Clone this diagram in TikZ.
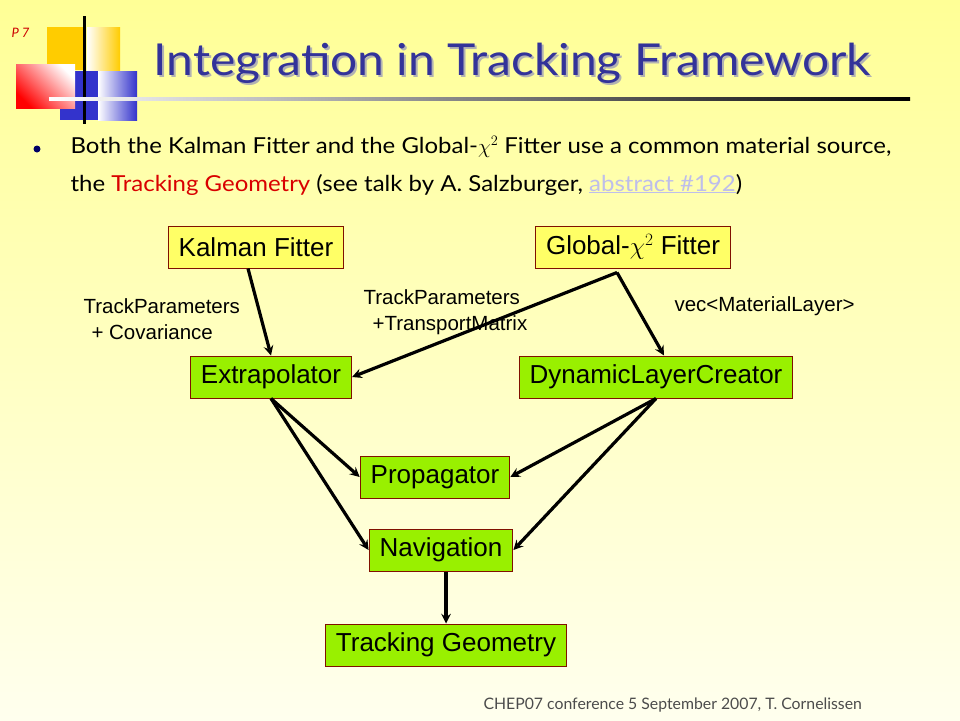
\documentclass[tikz,border=0pt]{standalone}
\usepackage{fontspec}
\setmainfont{Lato}
\newfontfamily\boxfont{Liberation Sans}
\newfontfamily\titlefont[FakeStretch=1.09]{Lato}
\newfontfamily\bodyfont[FakeStretch=1.09]{Lato}
\usepackage{tikz}
\usepackage{xcolor}
\usetikzlibrary{arrows}
\usetikzlibrary{shapes}

\definecolor{titleblue}{RGB}{51,51,153}
\definecolor{fittercol}{RGB}{255,255,102}
\definecolor{toolcol}{RGB}{153,240,0}
\definecolor{boxedge}{RGB}{128,16,0}
\definecolor{logogold}{RGB}{255,204,0}
\definecolor{logoblue}{RGB}{51,51,204}
\definecolor{linkcol}{RGB}{190,190,235}

\tikzset{
	fitterbox/.style={draw=boxedge, fill=fittercol, line width=1pt, minimum height=42pt, inner xsep=10.5pt, font=\boxfont\fontsize{26}{30}\selectfont},
	toolbox/.style={fitterbox, fill=toolcol},
	flow/.style={->, >=stealth, line width=3.2pt},
	passlabel/.style={align=left, font=\boxfont\fontsize{20.5}{26}\selectfont}
}

\begin{document}
\begin{tikzpicture}[x=1pt, y=-1pt]
		%
		%background
		\shade[top color={rgb,255:red,255;green,255;blue,150}, bottom color={rgb,255:red,255;green,255;blue,238}] (0,0) rectangle (960,720);
		%
		%logo
		\fill[logogold] (47,27) rectangle (84,70);
		\shade[left color=white, right color=logogold] (87,27) rectangle (120,70);
		\fill[logoblue] (60,71) rectangle (98,120);
		\shade[left color=white, right color=logoblue] (98,71) rectangle (137,120);
		\shade[top color=white, bottom color=red, shading angle=-45] (16,64) rectangle (75,108);
		\draw[line width=3pt] (84,16) -- (84,124);
		\shade[left color=white, right color=black] (49,97.5) rectangle (910,100.5);
		\node[anchor=base west, text=red!80!black, font=\itshape\fontsize{13}{15}\selectfont] (pagenum) at (8,37) {P 7};
		%
		%title
		\node[anchor=base west, text=black!30, font=\titlefont\fontsize{44}{50}\selectfont] at (152,77) {Integration in Tracking Framework};
		\node[anchor=base west, text=titleblue, font=\titlefont\fontsize{44}{50}\selectfont] (title) at (150,75) {Integration in Tracking Framework};
		%
		%bullet
		\fill[fill={rgb,255:red,0;green,0;blue,102}] (37,149) circle (3.5);
		\node[anchor=base west, font=\bodyfont\fontsize{22}{26}\selectfont] (line1) at (67,153) {Both the Kalman Fitter and the Global-$\chi^2$ Fitter use a common material source,};
		\node[anchor=base west, font=\bodyfont\fontsize{22}{26}\selectfont] (line2) at (67,191) {the \textcolor{red!85!black}{Tracking Geometry} (see talk by A. Salzburger, \textcolor{linkcol}{\underline{abstract \#192}})};
		%
		%fitters
		\node[fitterbox] (kalman) at (256,247) {Kalman Fitter};
		\node[fitterbox] (global) at (633,247) {Global-$\chi^{2}$ Fitter};
		%
		%tools
		\node[toolbox] (extrap) at (271,377) {Extrapolator};
		\node[toolbox] (dlc) at (656,377) {DynamicLayerCreator};
		\node[toolbox] (prop) at (435,477) {Propagator};
		\node[toolbox] (navig) at (441,550) {Navigation};
		\node[toolbox] (track) at (446,645) {Tracking Geometry};
		%
		%labels
		\node[passlabel, anchor=west] (covlabel) at (80,319) {TrackParameters\\\hspace{8pt}+ Covariance};
		\node[passlabel, anchor=west] (tmlabel) at (360,312) {TrackParameters\\\hspace{9pt}+TransportMatrix};
		\node[passlabel, anchor=west] (veclabel) at (671,306) {vec<MaterialLayer>};
		%
		%connectors
		\coordinate (gapex) at ([xshift=-16pt, yshift=-4pt]global.south);
		\draw[flow] ([xshift=-8pt]kalman.south) -- (extrap.north);
		\draw[flow] (gapex) -- (extrap.east);
		\draw[flow] (gapex) -- ([xshift=8pt]dlc.north);
		\draw[flow] (extrap.south) -- (prop.west);
		\draw[flow] (extrap.south) -- (navig.west);
		\draw[flow] (dlc.south) -- (prop.east);
		\draw[flow] (dlc.south) -- (navig.east);
		\draw[flow] (track.north |- navig.south) -- (track.north);
		%
		%footer
		\node[anchor=base west, text=black!70, font=\fontsize{15.8}{18}\selectfont] (footer) at (480,709) {CHEP07 conference 5 September 2007, T. Cornelissen};
	\end{tikzpicture}
\end{document}
